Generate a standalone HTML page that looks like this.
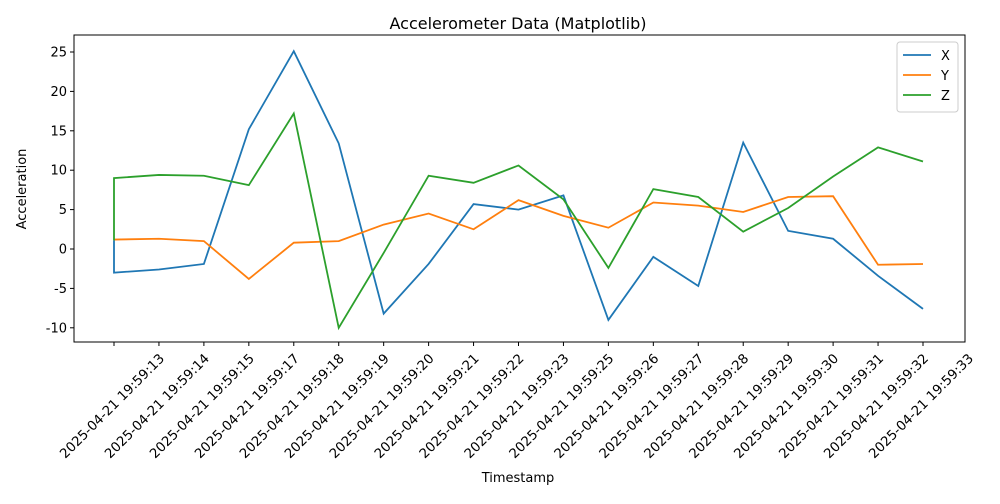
<!DOCTYPE html>
<html><head><meta charset="utf-8"><style>
body{margin:0;background:#fff;font-family:"DejaVu Sans","Liberation Sans",sans-serif}
</style></head><body>
<svg id="c" width="1000" height="500" xmlns="http://www.w3.org/2000/svg" font-family="DejaVu Sans, Liberation Sans, sans-serif"></svg>
<script>
const categories=["2025-04-21 19:59:13","2025-04-21 19:59:14","2025-04-21 19:59:15","2025-04-21 19:59:17","2025-04-21 19:59:18","2025-04-21 19:59:19","2025-04-21 19:59:20","2025-04-21 19:59:21","2025-04-21 19:59:22","2025-04-21 19:59:23","2025-04-21 19:59:25","2025-04-21 19:59:26","2025-04-21 19:59:27","2025-04-21 19:59:28","2025-04-21 19:59:29","2025-04-21 19:59:30","2025-04-21 19:59:31","2025-04-21 19:59:32","2025-04-21 19:59:33"];
const xStart=1.1;
const zStart=1.1;
const xVals=[-3.0,-2.6,-1.9,15.2,25.1,13.4,-8.2,-1.9,5.7,5.0,6.8,-9.0,-1.0,-4.7,13.5,2.3,1.3,-3.4,-7.6];
const yVals=[1.2,1.3,1.0,-3.8,0.8,1.0,3.1,4.5,2.5,6.2,4.2,2.7,5.9,5.5,4.7,6.6,6.7,-2.0,-1.9];
const zVals=[9.0,9.4,9.3,8.1,17.2,-10.0,-0.5,9.3,8.4,10.6,6.3,-2.4,7.6,6.6,2.2,5.2,9.2,12.9,11.1];
const yTicks=[-10,-5,0,5,10,15,20,25];
const L=74,R=965,T=35,B=342;
const sx=i=>114+i*(923-114)/(categories.length-1);
const sy=v=>249-v*(249-52)/25;
const svg=document.getElementById('c');
const NS='http://www.w3.org/2000/svg';
function mk(t,a,p){const e=document.createElementNS(NS,t);for(const k in a)e.setAttribute(k,a[k]);(p||svg).appendChild(e);return e;}
let e=mk('text',{x:518,y:29,'text-anchor':'middle','font-size':16,fill:'#000'});e.textContent='Accelerometer Data (Matplotlib)';


yTicks.forEach(v=>{mk('line',{x1:L-4,x2:L,y1:sy(v),y2:sy(v),stroke:'#000'});
 const t=mk('text',{x:L-7,y:sy(v)+4.5,'text-anchor':'end','font-size':13});t.textContent=v;
 
 });
categories.forEach((c,i)=>{const x=sx(i);mk('line',{x1:x,x2:x,y1:B,y2:B+4,stroke:'#000'});
 const cy=B+64, cx=x-2;
 const t=mk('text',{x:cx,y:cy+4.5,'text-anchor':'middle','font-size':13.3,transform:`rotate(-45 ${cx} ${cy})`});t.textContent=c;
 
 });
const series=[["X","#1f77b4",xVals,xStart],["Y","#ff7f0e",yVals,null],["Z","#2ca02c",zVals,zStart]];
series.forEach(([n,col,vals,st])=>{let pts=vals.map((v,i)=>sx(i)+','+sy(v));if(st!==null)pts.unshift(sx(0)+','+sy(st));
 const p=mk('polyline',{points:pts.join(' '),fill:'none',stroke:col,'stroke-width':1.8});
 
 });
mk('rect',{x:L,y:T,width:R-L,height:B-T,fill:'none',stroke:'#000','stroke-width':1});
e=mk('text',{x:518,y:482,'text-anchor':'middle','font-size':13});e.textContent='Timestamp';


e=mk('text',{x:26,y:189,'text-anchor':'middle','font-size':13,transform:'rotate(-90 26 189)'});e.textContent='Acceleration';


const lg=mk('g',{});


mk('rect',{x:897,y:42,width:61,height:70,rx:3,fill:'#fff',stroke:'#ccc'},lg);
series.forEach(([n,col],i)=>{const y=55+i*20;mk('line',{x1:903,x2:931,y1:y,y2:y,stroke:col,'stroke-width':1.8},lg);
 const t=mk('text',{x:941,y:y+5,'font-size':13},lg);t.textContent=n;
 
 });
</script>
</body></html>
